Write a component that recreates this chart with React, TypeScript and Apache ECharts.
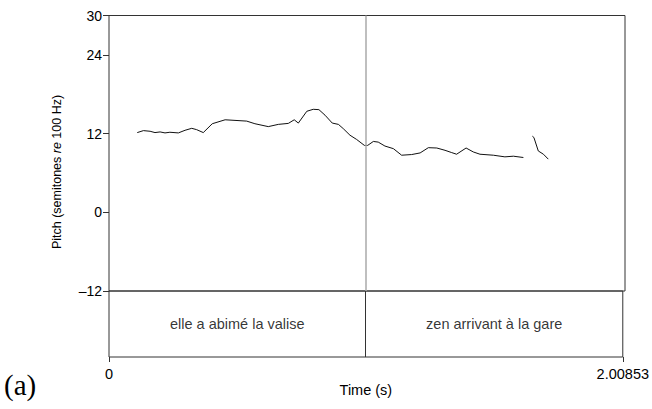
import React, { useEffect, useRef } from "react";
import * as echarts from "echarts";

const T_MAX = 2.00853;
const BOUNDARY = 1.003;

const seg1Time = [0.110, 0.134, 0.160, 0.179, 0.199, 0.218, 0.237, 0.270, 0.296, 0.322, 0.341, 0.367, 0.402, 0.452, 0.536, 0.568, 0.620, 0.659, 0.698, 0.721, 0.737, 0.770, 0.795, 0.817, 0.841, 0.869, 0.893, 0.912, 0.938, 0.964, 0.994, 1.007, 1.029, 1.048, 1.074, 1.107, 1.139, 1.178, 1.211, 1.243, 1.276, 1.308, 1.334, 1.353, 1.390, 1.418, 1.444, 1.496, 1.541, 1.574, 1.613];
const seg1Pitch = [12.15, 12.45, 12.35, 12.15, 12.25, 12.1, 12.2, 12.1, 12.5, 12.8, 12.6, 12.15, 13.5, 14.1, 13.9, 13.5, 13.06, 13.4, 13.55, 14.1, 13.6, 15.4, 15.7, 15.65, 14.8, 13.6, 13.4, 12.75, 11.75, 11.1, 10.2, 10.2, 10.8, 10.7, 10.1, 9.7, 8.7, 8.8, 9.05, 9.85, 9.8, 9.45, 9.1, 8.85, 9.8, 9.2, 8.85, 8.7, 8.45, 8.55, 8.35];
const seg2Time = [1.648, 1.654, 1.671, 1.691, 1.710];
const seg2Pitch = [11.6, 11.4, 9.35, 8.85, 8.1];

const yTicks = [-12, 0, 12, 24, 30];
const xTicks = [0, T_MAX];

const intervalStarts = [0, BOUNDARY];
const intervalEnds = [BOUNDARY, T_MAX];
const intervalTexts = ["elle a abimé la valise", "zen arrivant à la gare"];

const FONT = "'Liberation Sans', Arial, Helvetica, sans-serif";

export default function App() {
  const ref = useRef<HTMLDivElement>(null);
  useEffect(() => {
    if (!ref.current) return;
    const chart = echarts.init(ref.current, null, { renderer: "svg" });
    const zip = (a: number[], b: number[]) => a.map((v, i) => [v, b[i]]);
    const tierData = intervalTexts.map((txt, i) => ({
      value: [(intervalStarts[i] + intervalEnds[i]) / 2, 0.5],
      name: txt,
    }));
    chart.setOption({
      animation: false,
      grid: [
        { left: 109, right: 27, top: 15.5, height: 275.5, show: true, borderColor: "#333", borderWidth: 1, backgroundColor: "transparent" },
        { left: 109, right: 27, top: 291, height: 66, show: true, borderColor: "#333", borderWidth: 1, backgroundColor: "transparent" },
      ],
      xAxis: [
        { type: "value", gridIndex: 0, min: 0, max: T_MAX, show: false },
        {
          type: "value", gridIndex: 1, min: 0, max: T_MAX,
          axisLine: { show: false },
          splitLine: { show: false },
          axisTick: { show: true, customValues: xTicks, length: 5, lineStyle: { color: "#333" } },
          axisLabel: {
            customValues: xTicks, color: "#000", fontFamily: FONT, fontSize: 14.5, margin: 9,
            formatter: (v: number) => (v === 0 ? "0" : String(T_MAX)),
          },
          name: "Time (s)", nameLocation: "middle", nameGap: 25,
          nameTextStyle: { color: "#000", fontFamily: FONT, fontSize: 14.5 },
        },
      ],
      yAxis: [
        {
          type: "value", gridIndex: 0, min: -12, max: 30,
          axisLine: { show: false },
          splitLine: { show: false },
          axisTick: { show: true, customValues: yTicks, length: 6, lineStyle: { color: "#333" } },
          axisLabel: {
            customValues: yTicks, color: "#000", fontFamily: FONT, fontSize: 14, margin: 7,
            formatter: (v: number) => String(v).replace("-", "\u2013"),
          },
        },
        { type: "value", gridIndex: 1, min: 0, max: 1, show: false },
      ],
      series: [
        {
          type: "line", xAxisIndex: 0, yAxisIndex: 0, data: zip(seg1Time, seg1Pitch),
          showSymbol: false, lineStyle: { color: "#111", width: 1 },
          markLine: {
            silent: true, symbol: "none", label: { show: false },
            lineStyle: { color: "#aaa", width: 1.5, type: "solid" },
            data: [{ xAxis: BOUNDARY }],
          },
        },
        {
          type: "line", xAxisIndex: 0, yAxisIndex: 0, data: zip(seg2Time, seg2Pitch),
          showSymbol: false, lineStyle: { color: "#111", width: 1 },
        },
        {
          type: "scatter", xAxisIndex: 1, yAxisIndex: 1, data: tierData, symbolSize: 0,
          label: {
            show: true, position: "inside", formatter: (p: any) => p.name,
            color: "#000", fontFamily: FONT, fontSize: 14.5,
          },
          markLine: {
            silent: true, symbol: "none", label: { show: false },
            lineStyle: { color: "#333", width: 1, type: "solid" },
            data: [{ xAxis: BOUNDARY }],
          },
        },
      ],
      graphic: [
        {
          type: "text", x: 57, y: 172, rotation: Math.PI / 2,
          style: {
            text: "{a|Pitch (semitones }{i|re}{a| 100 Hz)}",
            align: "center", verticalAlign: "middle",
            rich: {
              a: { fill: "#000", fontFamily: FONT, fontSize: 12.5 },
              i: { fill: "#000", fontFamily: FONT, fontSize: 12.5, fontStyle: "italic" },
            },
          },
        },
        {
          type: "text", left: 4, top: 370,
          style: { text: "(a)", fontFamily: "'Liberation Serif', 'Times New Roman', serif", fontSize: 29, fill: "#000" },
        },
      ],
    });
    return () => chart.dispose();
  }, []);
  return <div ref={ref} style={{ width: 652, height: 409, position: "absolute", left: 0, top: 0 }} />;
}
